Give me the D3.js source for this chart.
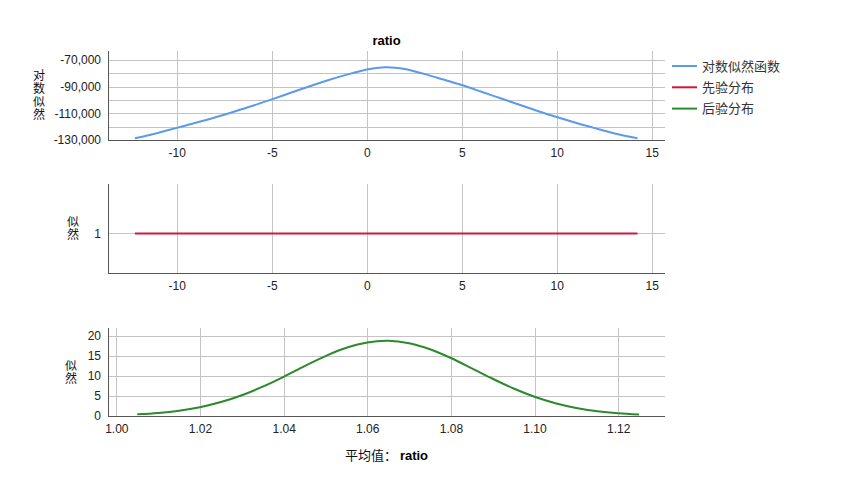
<!DOCTYPE html>
<html>
<head>
<meta charset="utf-8">
<script src="https://cdn.jsdelivr.net/npm/d3@7"></script>
<style>
  body { margin: 0; background: #fff; }
  .tick text { font-family: "Liberation Sans", Arial, sans-serif; font-size: 12px; fill: #222; }
  .cjk { font-family: "Noto Sans CJK SC", sans-serif; font-size: 13px; fill: #111; }
</style>
</head>
<body>
<svg id="chart"></svg>
<script>
// log-likelihood of the mean (top panel)
const llMean = [-12.2, -11, -10, -9, -8, -7, -6, -5, -4, -3, -2, -1, 0, 0.5, 1, 1.5, 2, 3, 4, 5, 6, 7, 8, 9, 10, 11, 12, 13, 14.25];
const llValue = [-128700, -124700, -120900, -117100, -113100, -108800, -104300, -99500, -94600, -89700, -85000, -80800,
  -77100, -75950, -75500, -75800, -76800, -80400, -84500, -88800, -93600, -98500, -103400, -108200, -112800, -117100, -121100, -124900, -128750];

// prior (middle panel) - flat
const priorMean = [-12.2, 14.25];
const priorValue = [1, 1];

// posterior (bottom panel)
const postMean = [1.005, 1.010, 1.015, 1.020, 1.025, 1.030, 1.035, 1.040, 1.045, 1.050, 1.055, 1.060, 1.065,
  1.070, 1.075, 1.080, 1.085, 1.090, 1.095, 1.100, 1.105, 1.110, 1.115, 1.120, 1.125];
const postValue = [0.41, 0.76, 1.33, 2.21, 3.48, 5.19, 7.34, 9.80, 12.46, 14.98, 17.05, 18.39, 18.80,
  18.19, 16.69, 14.50, 11.93, 9.31, 6.87, 4.81, 3.19, 2.00, 1.19, 0.67, 0.36];

const meanTicks = [-10, -5, 0, 5, 10, 15];
const llTicks = [-130000, -110000, -90000, -70000];
const llGrid = [-130000, -120000, -110000, -100000, -90000, -80000, -70000];
const postXTicks = [1.00, 1.02, 1.04, 1.06, 1.08, 1.10, 1.12];
const postYTicks = [0, 5, 10, 15, 20];

const legendLabels = ['对数似然函数', '先验分布', '后验分布'];
const colors = ['#5b9aeb', '#d2193c', '#2b8a2b'];

const width = 853, height = 503;
const left = 108, right = 665;

// plain hyphen instead of d3's unicode minus
const fmt = spec => {
  const f = d3.format(spec);
  return d => f(d).replace('\u2212', '-');
};

const svg = d3.select('#chart')
    .attr('width', width)
    .attr('height', height);

function drawPanel(cfg) {
  const x = d3.scaleLinear().domain(cfg.xDomain).range([left, right]);
  const y = d3.scaleLinear().domain(cfg.yDomain).range([cfg.bottom, cfg.top]);
  const g = svg.append('g');

  // grid lines
  g.selectAll('.vgrid')
      .data(cfg.xTicks)
    .join('line')
      .attr('x1', d => Math.round(x(d)) + 0.5)
      .attr('x2', d => Math.round(x(d)) + 0.5)
      .attr('y1', cfg.top)
      .attr('y2', cfg.bottom)
      .attr('stroke', '#c4c4c4');

  g.selectAll('.hgrid')
      .data(cfg.yGrid)
    .join('line')
      .attr('x1', left)
      .attr('x2', right)
      .attr('y1', d => Math.round(y(d)) + 0.5)
      .attr('y2', d => Math.round(y(d)) + 0.5)
      .attr('stroke', '#c4c4c4');

  // axes (labels only, lines drawn below)
  const xAxis = d3.axisBottom(x)
      .tickValues(cfg.xTicks)
      .tickFormat(cfg.xFormat)
      .tickSize(0)
      .tickPadding(8);
  g.append('g')
      .attr('transform', `translate(0,${cfg.bottom})`)
      .call(xAxis)
      .call(a => a.select('.domain').remove());

  const yAxis = d3.axisLeft(y)
      .tickValues(cfg.yTicks)
      .tickFormat(cfg.yFormat)
      .tickSize(0)
      .tickPadding(7);
  g.append('g')
      .attr('transform', `translate(${left},0)`)
      .call(yAxis)
      .call(a => a.select('.domain').remove());

  // series line
  const line = d3.line()
      .x((d, i) => x(cfg.xs[i]))
      .y(d => y(d))
      .curve(d3.curveCatmullRom);
  g.append('path')
      .datum(cfg.ys)
      .attr('d', line)
      .attr('fill', 'none')
      .attr('stroke', cfg.color)
      .attr('stroke-width', 2);

  // axis lines
  g.append('line')
      .attr('x1', left + 0.5).attr('x2', left + 0.5)
      .attr('y1', cfg.top).attr('y2', cfg.bottom)
      .attr('stroke', '#555');
  g.append('line')
      .attr('x1', left).attr('x2', right)
      .attr('y1', cfg.bottom + 0.5).attr('y2', cfg.bottom + 0.5)
      .attr('stroke', '#555');

  // stacked vertical title
  g.append('text')
      .attr('class', 'cjk')
      .attr('x', cfg.labelX)
      .attr('y', cfg.labelTop)
      .style('font-size', '12px')
      .style('writing-mode', 'vertical-rl')
      .style('text-orientation', 'upright')
      .style('letter-spacing', '1.3px')
      .text(cfg.label);
}

drawPanel({
  top: 51, bottom: 140,
  xDomain: [-13.62, 15.70], yDomain: [-130000, -63250],
  xTicks: meanTicks, xFormat: fmt('d'),
  yTicks: llTicks, yGrid: llGrid, yFormat: fmt(','),
  xs: llMean, ys: llValue, color: colors[0],
  label: '对数似然', labelX: 39, labelTop: 69
});

drawPanel({
  top: 184, bottom: 273,
  xDomain: [-13.62, 15.70], yDomain: [0.6, 1.5],
  xTicks: meanTicks, xFormat: fmt('d'),
  yTicks: [1], yGrid: [1], yFormat: fmt('d'),
  xs: priorMean, ys: priorValue, color: colors[1],
  label: '似然', labelX: 73, labelTop: 215
});

drawPanel({
  top: 328, bottom: 416,
  xDomain: [0.998, 1.1312], yDomain: [0, 22],
  xTicks: postXTicks, xFormat: fmt('.2f'),
  yTicks: postYTicks, yGrid: postYTicks.slice(1), yFormat: fmt('d'),
  xs: postMean, ys: postValue, color: colors[2],
  label: '似然', labelX: 71, labelTop: 359
});

// chart title
svg.append('text')
    .attr('x', (left + right) / 2)
    .attr('y', 45)
    .attr('text-anchor', 'middle')
    .style('font-family', '"Liberation Sans", Arial, sans-serif')
    .style('font-size', '13px')
    .style('font-weight', 'bold')
    .text('ratio');

// x axis title
const xt = svg.append('text')
    .attr('x', (left + right) / 2)
    .attr('y', 460)
    .attr('text-anchor', 'middle');
xt.append('tspan')
    .attr('class', 'cjk')
    .text('平均值： ');
xt.append('tspan')
    .style('font-family', '"Liberation Sans", Arial, sans-serif')
    .style('font-size', '13px')
    .style('font-weight', 'bold')
    .text('ratio');

// legend
const legend = svg.append('g')
    .attr('transform', 'translate(672,66)');
const items = legend.selectAll('g')
    .data(legendLabels)
  .join('g')
    .attr('transform', (d, i) => `translate(0,${i * 21.3})`);
items.append('line')
    .attr('x1', 0).attr('x2', 25)
    .attr('stroke', (d, i) => colors[i])
    .attr('stroke-width', 2);
items.append('text')
    .attr('class', 'cjk')
    .attr('x', 30)
    .attr('dy', '0.35em')
    .style('fill', '#333')
    .text(d => d);
</script>
</body>
</html>
